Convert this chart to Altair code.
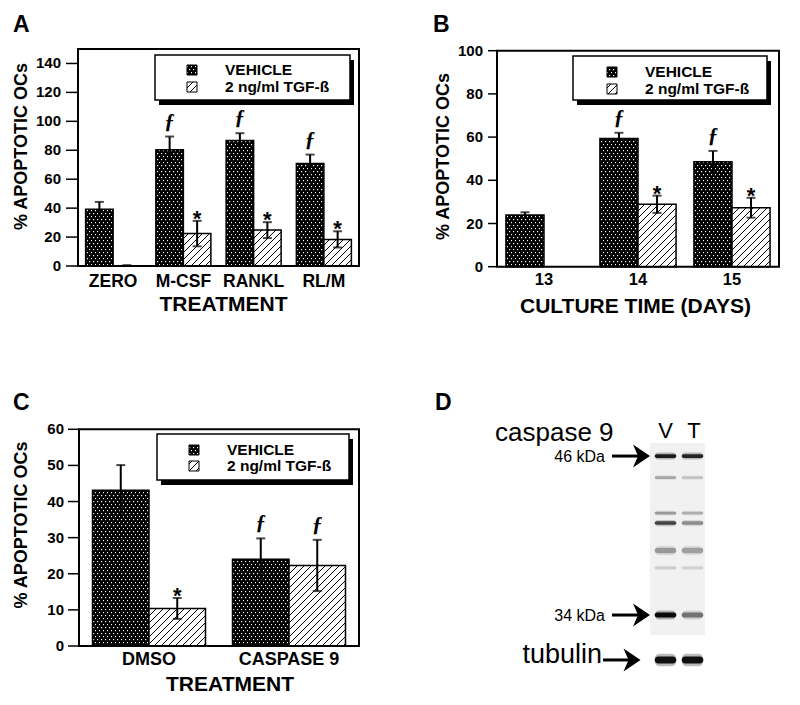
import altair as alt
import pandas as pd
import jinja2

VEH = "VEHICLE"
TGF = "2 ng/ml TGF-ß"
SERIES = [VEH, TGF]
Y_TITLE = "% APOPTOTIC OCs"

# ---- Panel A ----
A_CATS = ["ZERO", "M-CSF", "RANKL", "RL/M"]
A_VEH = [39.3, 80.4, 86.8, 70.9]
A_VEH_ERR = [5.0, 9.1, 5.0, 6.1]
A_TGF = [0.0, 22.4, 24.8, 18.4]
A_TGF_ERR = [0.6, 8.8, 5.5, 5.6]
A_VEH_SIG = ["", "ƒ", "ƒ", "ƒ"]
A_TGF_SIG = ["", "*", "*", "*"]
A_TICKS = [0, 20, 40, 60, 80, 100, 120, 140]

# ---- Panel B ----
B_CATS = ["13", "14", "15"]
B_VEH = [23.9, 59.4, 48.6]
B_VEH_ERR = [1.3, 2.6, 5.0]
B_TGF = [None, 28.9, 27.3]
B_TGF_ERR = [None, 4.0, 4.6]
B_VEH_SIG = ["", "ƒ", "ƒ"]
B_TGF_SIG = ["", "*", "*"]
B_TICKS = [0, 20, 40, 60, 80, 100]

# ---- Panel C ----
C_CATS = ["DMSO", "CASPASE 9"]
C_VEH = [43.1, 24.0]
C_VEH_ERR = [7.0, 5.8]
C_TGF = [10.4, 22.3]
C_TGF_ERR = [2.9, 7.1]
C_VEH_SIG = ["", "ƒ"]
C_TGF_SIG = ["*", "ƒ"]
C_TICKS = [0, 10, 20, 30, 40, 50, 60]

# ---- Panel D (western blot, relative migration 0 = top of strip, 1 = bottom) ----
BLOT_LANES = ["V", "T"]
BAND_POS = [0.068, 0.18, 0.365, 0.417, 0.56, 0.65, 0.896, 1.13]
BAND_HALF = [0.010, 0.007, 0.007, 0.009, 0.014, 0.007, 0.013, 0.018]
BAND_V = [0.85, 0.25, 0.30, 0.65, 0.30, 0.12, 0.95, 0.92]
BAND_T = [0.80, 0.15, 0.22, 0.35, 0.28, 0.10, 0.45, 0.92]
MARKERS = ["46 kDa", "34 kDa"]
MARKER_POS = [0.068, 0.896]
LOADING = "tubulin"
LOADING_POS = 1.13

W, H = 780, 689
FONT = "Liberation Sans"
DOTS = "url(#dots) #222"
HATCH = "url(#hatch) #fff"
ONE = pd.DataFrame({"k": [0]})


def P(v):
    return v - 8


def make_df(cats, veh, veh_err, veh_sig, tgf, tgf_err, tgf_sig):
    rows = []
    for i, c in enumerate(cats):
        for s, v, e, g in ((VEH, veh[i], veh_err[i], veh_sig[i]),
                           (TGF, tgf[i], tgf_err[i], tgf_sig[i])):
            if v is None:
                continue
            rows.append({"cat": c, "series": s, "value": v,
                         "lower": max(v - e, 0), "upper": v + e, "sig": g})
    return pd.DataFrame(rows)


def rect(x0, y0, x1, y1, **kw):
    return alt.Chart(ONE).mark_rect(**kw).encode(
        x=alt.value(P(x0)), x2=alt.value(P(x1)),
        y=alt.value(P(y0)), y2=alt.value(P(y1)))


def label(txt, x, y, **kw):
    return alt.Chart(ONE).mark_text(text=txt, font=FONT, color="black", **kw).encode(
        x=alt.value(P(x)), y=alt.value(P(y)))


def panel(df, cats, ymax, ticks, x0, x1, ybot, ytop, pad, xtitle, xlabsize,
          xlab_y, xtitle_c, ytitle_c, tick_size, ylab_pad):
    xs = alt.Scale(domain=cats, range=[P(x0), P(x1)], paddingInner=pad, paddingOuter=pad / 2)
    ys = alt.Scale(domain=[0, ymax], range=[P(ybot), P(ytop)], nice=False, zero=True)
    os_ = alt.Scale(domain=SERIES)
    fs = alt.Scale(domain=SERIES, range=[DOTS, HATCH])
    xe = alt.X("cat:N", scale=xs, axis=None)
    xo = alt.XOffset("series:N", scale=os_)

    def ye(f):
        return alt.Y(f, scale=ys, axis=None)

    base = alt.Chart(df)
    bars = base.mark_bar(stroke="black", strokeWidth=1.5).encode(
        x=xe, xOffset=xo, y=ye("value:Q"),
        fill=alt.Fill("series:N", scale=fs, legend=None))
    errs = base.mark_rule(color="black", strokeWidth=2).encode(
        x=xe, xOffset=xo, y=ye("lower:Q"), y2="upper:Q")
    cap_top = base.mark_tick(orient="horizontal", size=9, thickness=2, color="black").encode(
        x=xe, xOffset=xo, y=ye("upper:Q"))
    cap_bot = base.transform_filter(alt.datum.series == TGF).mark_tick(
        orient="horizontal", size=9, thickness=2, color="black").encode(
        x=xe, xOffset=xo, y=ye("lower:Q"))
    sig_f = base.transform_filter(alt.datum.sig == "ƒ").mark_text(
        font="Liberation Serif", fontStyle="italic", fontWeight="bold", fontSize=21,
        baseline="alphabetic", dy=-9, color="black").encode(
        x=xe, xOffset=xo, y=ye("upper:Q"), text="sig:N")
    sig_s = base.transform_filter(alt.datum.sig == "*").mark_text(
        font=FONT, fontWeight="bold", fontSize=22, baseline="alphabetic",
        dy=5, color="black").encode(
        x=xe, xOffset=xo, y=ye("upper:Q"), text="sig:N")

    # axes drawn from the scales
    tick_df = pd.DataFrame({"v": ticks})
    tick_lines = alt.Chart(tick_df).mark_rule(color="black", strokeWidth=1.5).encode(
        x=alt.value(P(x0 - tick_size)), x2=alt.value(P(x0)), y=ye("v:Q"))
    tick_labels = alt.Chart(tick_df).mark_text(
        align="right", baseline="middle", font=FONT, fontSize=15, fontWeight="bold",
        color="black").encode(
        x=alt.value(P(x0 - tick_size - ylab_pad)), y=ye("v:Q"), text="v:Q")
    cat_df = pd.DataFrame({"cat": cats})
    cat_labels = alt.Chart(cat_df).mark_text(
        align="center", baseline="middle", font=FONT, fontSize=xlabsize, fontWeight="bold",
        color="black").encode(x=xe, y=alt.value(P(xlab_y)), text="cat:N")
    xt = label(xtitle, xtitle_c[0], xtitle_c[1], align="center", baseline="middle",
               fontSize=21, fontWeight="bold")
    yt = label(Y_TITLE, ytitle_c[0], ytitle_c[1], align="center", baseline="middle",
               fontSize=18, fontWeight="bold", angle=270)
    return alt.layer(bars, errs, cap_top, cap_bot, sig_f, sig_s,
                     tick_lines, tick_labels, cat_labels, xt, yt)


def legend_box(x0, y0, x1, y1, sx, tx, r1, r2):
    out = [rect(x0 + 4, y0 + 5, x1 + 4, y1 + 5, fill="black"),
           rect(x0, y0, x1, y1, fill="white", stroke="black", strokeWidth=1.5)]
    for s, fv, r in zip(SERIES, [DOTS, HATCH], [r1, r2]):
        out.append(rect(sx, r - 5, sx + 10, r + 5, fill=fv, stroke="black", strokeWidth=1))
        out.append(label(s, tx, r, align="left", baseline="middle", fontSize=15.5,
                         fontWeight="bold"))
    return out


def frame(x0, y0, x1, y1):
    return rect(x0, y0, x1, y1, fillOpacity=0, stroke="black", strokeWidth=2)


dfA = make_df(A_CATS, A_VEH, A_VEH_ERR, A_VEH_SIG, A_TGF, A_TGF_ERR, A_TGF_SIG)
dfB = make_df(B_CATS, B_VEH, B_VEH_ERR, B_VEH_SIG, B_TGF, B_TGF_ERR, B_TGF_SIG)
dfC = make_df(C_CATS, C_VEH, C_VEH_ERR, C_VEH_SIG, C_TGF, C_TGF_ERR, C_TGF_SIG)

pA = panel(dfA, A_CATS, 150, A_TICKS, 78, 359, 266, 49, 0.217, "TREATMENT", 17.5, 282,
           (223.5, 305), (21.5, 146.5), 12, 5)
pB = panel(dfB, B_CATS, 100, B_TICKS, 497, 779, 266.7, 50.7, 0.19, "CULTURE TIME (DAYS)",
           16.5, 280, (635.5, 307), (443.5, 156.5), 9, 5)
pC = panel(dfC, C_CATS, 60, C_TICKS, 79, 359, 646, 429.3, 0.193, "TREATMENT", 18, 659.5,
           (230, 685), (21.5, 525), 11, 4)

# ---- Western blot panel ----
blot_rows = []
for i, p in enumerate(BAND_POS):
    for lane, inten in (("V", BAND_V[i]), ("T", BAND_T[i])):
        blot_rows.append({"lane": lane, "y0": p - BAND_HALF[i], "y1": p + BAND_HALF[i],
                          "h0": p - 1.8 * BAND_HALF[i], "h1": p + 1.8 * BAND_HALF[i],
                          "int": inten, "halo": inten * 0.3})
blot_df = pd.DataFrame(blot_rows)
blot_y = alt.Scale(domain=[0, 1], range=[P(443), P(635)], nice=False, zero=False)
lane_x = alt.Scale(domain=BLOT_LANES, range=[P(652), P(706)], paddingInner=0.2,
                   paddingOuter=0.1)

ARROW = "M0.74,0 L-0.74,-1 L-0.3,0 L-0.74,1 Z"


def ydat(v):
    return alt.YDatum(v, type="quantitative", scale=blot_y, axis=None)


d_layers = [
    alt.Chart(ONE).mark_rect(fill="#f1f1f1").encode(
        x=alt.value(P(650)), x2=alt.value(P(705)), y=ydat(0), y2=alt.Y2Datum(1)),
    alt.Chart(blot_df).mark_rect(fill="black", cornerRadius=5).encode(
        x=alt.X("lane:N", scale=lane_x, axis=None),
        y=alt.Y("h0:Q", scale=blot_y, axis=None), y2="h1:Q",
        opacity=alt.Opacity("halo:Q", scale=None)),
    alt.Chart(blot_df).mark_rect(fill="black", cornerRadius=4).encode(
        x=alt.X("lane:N", scale=lane_x, axis=None),
        y=alt.Y("y0:Q", scale=blot_y, axis=None), y2="y1:Q",
        opacity=alt.Opacity("int:Q", scale=None)),
]
for m, pos in zip(MARKERS, MARKER_POS):
    d_layers.append(alt.Chart(ONE).mark_rule(color="black", strokeWidth=3).encode(
        x=alt.value(P(612)), x2=alt.value(P(640)), y=ydat(pos)))
    d_layers.append(alt.Chart(ONE).mark_point(shape=ARROW, size=529, filled=True,
                                              color="black", opacity=1).encode(
        x=alt.value(P(641.5)), y=ydat(pos)))
    d_layers.append(alt.Chart(ONE).mark_text(text=m, font=FONT, fontSize=16, align="right",
                                             baseline="middle", dy=1, color="black").encode(
        x=alt.value(P(605)), y=ydat(pos)))
d_layers.append(alt.Chart(ONE).mark_rule(color="black", strokeWidth=3).encode(
    x=alt.value(P(603)), x2=alt.value(P(632)), y=ydat(LOADING_POS)))
d_layers.append(alt.Chart(ONE).mark_point(shape=ARROW, size=529, filled=True,
                                          color="black", opacity=1).encode(
    x=alt.value(P(632)), y=ydat(LOADING_POS)))
d_layers.append(alt.Chart(ONE).mark_text(text=LOADING, font=FONT, fontSize=27, align="right",
                                         baseline="alphabetic", dy=3, color="black").encode(
    x=alt.value(P(602)), y=ydat(LOADING_POS)))
pD = alt.layer(*d_layers)

decor = [
    frame(78, 49, 359, 266), frame(497, 50.7, 779, 266.7), frame(79, 429.3, 359, 646),
    *legend_box(155, 55, 350, 100, 187, 225, 70, 87),
    *legend_box(573, 56, 767, 100, 607, 645, 72, 89),
    *legend_box(157, 434, 349, 480, 189, 227, 450, 466),
    label("A", 13, 32, align="left", baseline="alphabetic", fontSize=23, fontWeight="bold"),
    label("B", 433, 32, align="left", baseline="alphabetic", fontSize=23, fontWeight="bold"),
    label("C", 13, 410, align="left", baseline="alphabetic", fontSize=23, fontWeight="bold"),
    label("D", 435, 410, align="left", baseline="alphabetic", fontSize=23, fontWeight="bold"),
    label("caspase 9", 495, 441, align="left", baseline="alphabetic", fontSize=26),
    label(BLOT_LANES[0], 665.5, 438, align="center", baseline="alphabetic", fontSize=22),
    label(BLOT_LANES[1], 694, 438, align="center", baseline="alphabetic", fontSize=22),
]

chart = alt.layer(pA, pB, pC, pD, *decor).resolve_scale(
    x="independent", y="independent", xOffset="independent"
).properties(
    width=W, height=H, padding=0, autosize=alt.AutoSizeParams(type="none"),
    background="white"
).configure_view(stroke=None)

TEMPLATE = jinja2.Template("""<!DOCTYPE html>
<html>
<head>
  <style>
    #{{ output_div }}.vega-embed { width: 100%; display: flex; }
  </style>
  <script type="text/javascript" src="{{ base_url }}/vega@{{ vega_version }}"></script>
  <script type="text/javascript" src="{{ base_url }}/vega-lite@{{ vegalite_version }}"></script>
  <script type="text/javascript" src="{{ base_url }}/vega-embed@{{ vegaembed_version }}"></script>
</head>
<body>
  <svg width="0" height="0" style="position:absolute;left:0;top:0" aria-hidden="true">
    <defs>
      <pattern id="dots" patternUnits="userSpaceOnUse" width="4" height="6">
        <rect width="4" height="6" fill="#000"/>
        <rect x="1" y="1" width="1.2" height="1.2" fill="#fff"/>
        <rect x="3" y="4" width="1.2" height="1.2" fill="#fff"/>
      </pattern>
      <pattern id="hatch" patternUnits="userSpaceOnUse" width="7" height="7">
        <rect width="7" height="7" fill="#fff"/>
        <path d="M0,7 L7,0 M-1,1 L1,-1 M6,8 L8,6" stroke="#000" stroke-width="1"/>
      </pattern>
    </defs>
  </svg>
  <div id="{{ output_div }}"></div>
  <script>
    (function(vegaEmbed) {
      var spec = {{ spec }};
      var embedOpt = {{ embed_options }};
      var el = document.getElementById('{{ output_div }}');
      vegaEmbed("#{{ output_div }}", spec, embedOpt).catch(function(error) {
        el.innerHTML = '<div style="color:red;">' + error.message + '</div>';
      });
    })(vegaEmbed);
  </script>
</body>
</html>
""")

chart.save("out.html", embed_options={"renderer": "svg", "actions": False}, template=TEMPLATE)
